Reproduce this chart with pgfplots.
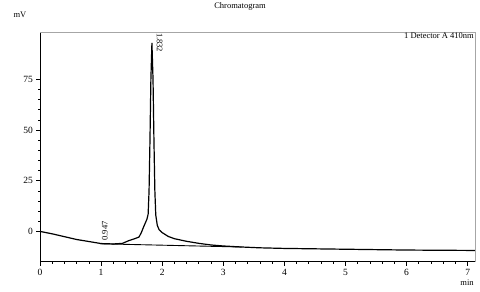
\documentclass[border=0pt]{standalone}
\usepackage{pgfplots}
\pgfplotsset{compat=1.18}
\usepackage{fontspec}
\setmainfont{Liberation Serif}
\begin{document}
\fontsize{8.5}{10}\selectfont
\begin{tikzpicture}
\useasboundingbox (0,0) rectangle (480pt,292pt);
\begin{axis}[
  at={(40pt,30pt)}, anchor=south west,
  scale only axis, width=435pt, height=230pt,
  xmin=0, xmax=7.12, ymin=-15.1, ymax=98.4,
  axis x line*=bottom, axis y line*=left,
  xtick={0,1,2,3,4,5,6,7}, minor x tick num=4,
  ytick={0,25,50,75}, minor y tick num=4,
  tick align=outside,
  major tick length=4pt, minor tick length=2pt,
  tick style={black, line width=0.7pt},
  axis line style={black, line width=1pt},
  /pgf/number format/assume math mode=true,
  ticklabel style={font=\fontsize{9.5}{11}\selectfont},
  clip=false,
]
\addplot[black, line width=1.2pt] coordinates {
(0,0) (0.2,-1.2) (0.4,-2.6) (0.6,-4.0) (0.8,-5.0) (1.0,-6.0) (1.2,-6.2)
(1.35,-5.9) (1.45,-4.6) (1.55,-3.6) (1.62,-2.8) (1.66,-0.5) (1.70,2.5)
(1.75,6.0) (1.77,8.5) (1.785,20) (1.80,45) (1.815,75) (1.832,93)
(1.85,75) (1.865,45) (1.88,20) (1.895,8) (1.92,3) (1.95,0.8) (2.0,-0.6)
(2.1,-2.5) (2.2,-3.6) (2.4,-4.9) (2.6,-5.9) (2.8,-6.7) (3.0,-7.2)
(3.3,-7.7) (3.6,-8.1) (4.0,-8.4) (4.5,-8.6) (5.0,-8.8) (5.5,-9.0)
(6.0,-9.2) (6.5,-9.3) (7.12,-9.4)
};
\addplot[black, line width=0.9pt] coordinates {(0.98,-6.1) (3.3,-7.7)};
\draw[gray!70, line width=0.8pt] (rel axis cs:0,1) -- (rel axis cs:1,1) -- (rel axis cs:1,0);
\node[rotate=-90, anchor=west, inner sep=0pt] at (axis cs:1.96,98) {1.832};
\node[rotate=90, anchor=west, inner sep=0pt] at (axis cs:1.06,-4.6) {0.947};
\node[anchor=north east, inner sep=1pt] at (rel axis cs:1,1) {1 Detector A 410nm};
\end{axis}
\node at (240pt,286pt) {Chromatogram};
\node at (20pt,277pt) {mV};
\node at (467pt,9pt) {min};
\end{tikzpicture}
\end{document}
